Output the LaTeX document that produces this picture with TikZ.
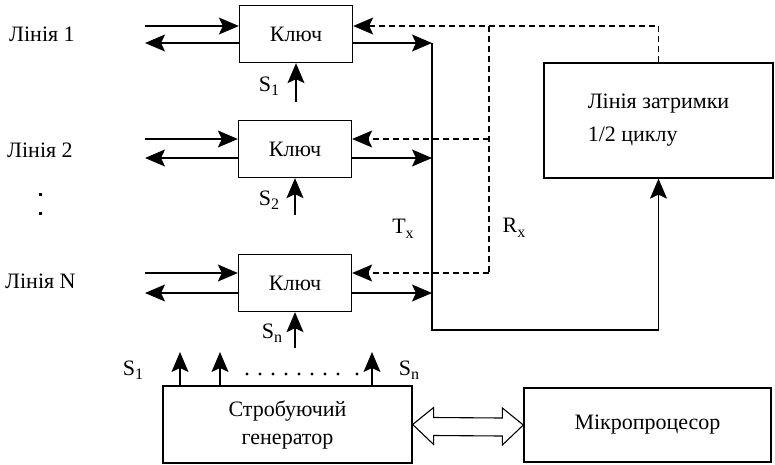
\documentclass[tikz,border=0pt]{standalone}
\usepackage{fontspec}
\setmainfont{Liberation Serif}
\usetikzlibrary{arrows.meta,calc}
\newcommand{\subidx}[1]{\raisebox{-0.45ex}{\fontsize{16}{16}\selectfont #1}}
\tikzset{tip/.tip={Stealth[length=20pt,width=17pt,inset=4pt]}}
\begin{document}
\begin{tikzpicture}[x=1pt,y=-1pt,
  wire/.style={line width=1.3pt},
  rline/.style={line width=1.3pt,dash pattern=on 6pt off 4pt},
  txt/.style={font=\fontsize{22}{28}\selectfont,inner sep=0pt},
  keybox/.style={draw,line width=1.3pt,minimum width=113pt,minimum height=57pt,inner sep=0pt,font=\fontsize{22}{24}\selectfont},
  bigbox/.style={draw,line width=1.3pt,inner sep=0pt,font=\fontsize{22}{28}\selectfont}]
\useasboundingbox (0,0) rectangle (775,464);

% key boxes
\node[keybox] (k1) at (296,34) {Ключ};
\node[keybox] (k2) at (295,149) {Ключ};
\node[keybox] (kN) at (295,283) {Ключ};

% other boxes
\node[bigbox,minimum width=229pt,minimum height=115pt,align=left,font=\fontsize{22}{33}\selectfont] (dl) at (658.5,120.5) {Лінія затримки\\1/2 циклу};
\node[bigbox,minimum width=249pt,minimum height=77pt,align=center] (gen) at (287.5,424.5) {Стробуючий\\генератор};
\node[bigbox,minimum width=247pt,minimum height=74pt] (mp) at (647.5,425) {Мікропроцесор};

% line labels
\node[txt,anchor=west] (n1) at (9,34) {Лінія 1};
\node[txt,anchor=west] (n2) at (7,150) {Лінія 2};
\node[txt,anchor=west] (nN) at (5,281) {Лінія N};
\fill (38.5,192.5) rectangle (41.5,195.5);
\fill (38.5,211.5) rectangle (41.5,214.5);

% free ends
\coordinate (a1) at (145,26); \coordinate (b1) at (145,43);
\coordinate (a2) at (145,139); \coordinate (b2) at (145,158);
\coordinate (aN) at (145,273); \coordinate (bN) at (145,293);

\draw[wire,-tip] (a1) -- (a1 -| k1.west);
\draw[wire,-tip] (b1 -| k1.west) -- (b1);
\draw[wire,-tip] (a2) -- (a2 -| k2.west);
\draw[wire,-tip] (b2 -| k2.west) -- (b2);
\draw[wire,-tip] (aN) -- (aN -| kN.west);
\draw[wire,-tip] (bN -| kN.west) -- (bN);

% Tx bus
\coordinate (t1) at (432,43); \coordinate (t2) at (432,158);
\coordinate (tN) at (432,293); \coordinate (tb) at (432,330);
\draw[wire,-tip] (k1.east |- t1) -- (t1);
\draw[wire,-tip] (k2.east |- t2) -- (t2);
\draw[wire,-tip] (kN.east |- tN) -- (tN);
\draw[wire,-tip] (t1) -- (tb) -| (dl.south);

% Rx bus
\coordinate (r1) at (489,26); \coordinate (r2) at (489,139); \coordinate (rN) at (489,273);
\draw[rline,-tip] (dl.north) -- (dl.north |- r1) -- (k1.east |- r1);
\draw[rline] (r1) -- (rN);
\draw[rline,-tip] (rN) -- (kN.east |- rN);
\draw[rline,-tip] (r2) -- (k2.east |- r2);

\node[txt] (tx) at (403,229) {T\subidx{x}};
\node[txt] (rx) at (514,228) {R\subidx{x}};

% strobe inputs of keys
\coordinate (s1) at (296,102); \coordinate (s2) at (295,215); \coordinate (sN) at (295,348);
\draw[wire,-tip] (s1) -- (s1 |- k1.south);
\draw[wire,-tip] (s2) -- (s2 |- k2.south);
\draw[wire,-tip] (sN) -- (sN |- kN.south);
\node[txt] (ls1) at (269,86) {S\subidx{1}};
\node[txt] (ls2) at (269,200) {S\subidx{2}};
\node[txt] (lsN) at (272,333) {S\subidx{n}};

% generator outputs
\coordinate (g1) at (180,352); \coordinate (g2) at (220,352); \coordinate (g3) at (372,352);
\draw[wire,-tip] (g1 |- gen.north) -- (g1);
\draw[wire,-tip] (g2 |- gen.north) -- (g2);
\draw[wire,-tip] (g3 |- gen.north) -- (g3);
\node[txt] (gs1) at (133,370) {S\subidx{1}};
\node[txt] (gsn) at (409,370) {S\subidx{n}};
\foreach \x in {247,260,273,286,299,312,325,338,357} \fill (\x,374) circle (1.6);

% double arrow
\draw[line width=1.1pt,fill=white] (gen.east) -- ($(gen.east)+(21,-17)$) -- ($(gen.east)+(21,-7)$)
  -- ($(mp.west)+(-21,-7)$) -- ($(mp.west)+(-21,-17)$) -- (mp.west)
  -- ($(mp.west)+(-21,20)$) -- ($(mp.west)+(-21,11)$) -- ($(gen.east)+(21,11)$)
  -- ($(gen.east)+(21,20)$) -- cycle;
\end{tikzpicture}
\end{document}
